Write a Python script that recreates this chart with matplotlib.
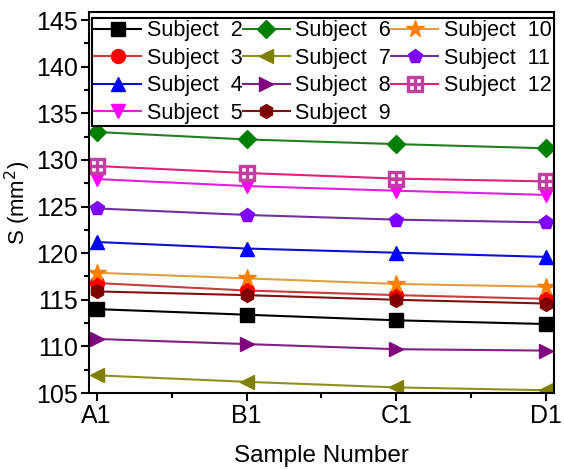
import matplotlib.pyplot as plt
import matplotlib.ticker as mticker

plt.rcParams['font.family'] = ['Liberation Sans', 'DejaVu Sans']

# muestras y areas por sujeto
muestras = ['A1', 'B1', 'C1', 'D1']
sujeto2 = [114.0, 113.4, 112.8, 112.4]
sujeto3 = [116.8, 116.0, 115.5, 115.1]
sujeto4 = [121.2, 120.5, 120.05, 119.6]
sujeto5 = [127.95, 127.2, 126.7, 126.25]
sujeto6 = [133.0, 132.2, 131.7, 131.25]
sujeto7 = [106.9, 106.2, 105.6, 105.3]
sujeto8 = [110.8, 110.25, 109.7, 109.55]
sujeto9 = [115.9, 115.5, 115.0, 114.6]
sujeto10 = [117.9, 117.3, 116.7, 116.4]
sujeto11 = [124.8, 124.1, 123.6, 123.3]
sujeto12 = [129.35, 128.6, 128.0, 127.7]

# (etiqueta, valores, color linea, color marcador, marcador)
series = [
    ('Subject  2', sujeto2, 'black', 'black', 's'),
    ('Subject  3', sujeto3, '#c83c3c', 'red', 'o'),
    ('Subject  4', sujeto4, '#1010d0', 'blue', '^'),
    ('Subject  5', sujeto5, '#e020e0', 'magenta', 'v'),
    ('Subject  6', sujeto6, '#208020', 'green', 'D'),
    ('Subject  7', sujeto7, '#909020', 'olive', '<'),
    ('Subject  8', sujeto8, '#802080', 'purple', '>'),
    ('Subject  9', sujeto9, '#801010', 'maroon', 'h'),
    ('Subject  10', sujeto10, '#e0a040', '#ff8000', '*'),
    ('Subject  11', sujeto11, '#7030a0', '#8000ff', 'p'),
    ('Subject  12', sujeto12, '#e0207a', '#c040a0', r'$\boxplus$'),
]

fig = plt.figure(figsize=(5.64, 4.69), dpi=100)
ax = fig.add_axes([0.158, 0.162, 0.824, 0.812])

x = list(range(len(muestras)))
for etiqueta, valores, color_l, color_m, marca in series:
    ms = 10
    if marca == '*':
        ms = 13
    elif marca == 'D':
        ms = 9
    elif marca.startswith('$'):
        ms = 11
    ax.plot(x, valores, color=color_l, lw=1.5, marker=marca, markersize=ms,
            markerfacecolor=color_m, markeredgecolor=color_m, label=etiqueta)

ax.set_xlim(-0.05, 3.05)
ax.set_ylim(105, 145.85)
ax.set_xticks(x)
ax.set_xticklabels(muestras)
ax.xaxis.set_minor_locator(mticker.MultipleLocator(0.5))
ax.set_yticks([105, 110, 115, 120, 125, 130, 135, 140, 145])
ax.yaxis.set_minor_locator(mticker.MultipleLocator(2.5))
ax.tick_params(which='major', direction='out', length=6, width=1.5,
               labelsize=18, pad=2)
ax.tick_params(which='minor', direction='out', length=3.5, width=1.5)
for lado in ax.spines.values():
    lado.set_linewidth(1.5)

ax.set_xlabel('Sample Number', fontsize=17.5, labelpad=12)
ax.set_ylabel('S (mm$^2$)', fontsize=16, labelpad=2)

leg = ax.legend(ncol=3, loc='upper left', bbox_to_anchor=(0.006, 0.984),
                borderaxespad=0, fontsize=15.5, handlelength=2.2,
                columnspacing=0.0, handletextpad=0.25, labelspacing=0.3,
                borderpad=0.1, fancybox=False, framealpha=1)
leg.get_frame().set_edgecolor('black')
leg.get_frame().set_linewidth(1.5)

fig.savefig('out.png', dpi=100)
